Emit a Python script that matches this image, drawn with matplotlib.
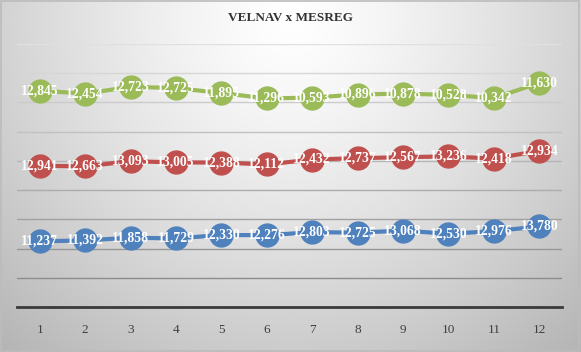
import numpy as np
import matplotlib
matplotlib.use("Agg")
import matplotlib.pyplot as plt
from matplotlib.patches import Rectangle

months = [1, 2, 3, 4, 5, 6, 7, 8, 9, 10, 11, 12]
blue_vals = [11237, 11392, 11858, 11729, 12330, 12276, 12803, 12725, 13068, 12530, 12976, 13780]
red_vals = [12941, 12663, 13093, 13005, 12388, 12112, 12432, 12737, 12567, 13236, 12418, 12934]
green_vals = [12845, 12454, 12723, 12725, 11895, 11296, 10593, 10896, 10878, 10528, 10342, 11630]
series = [("blue", blue_vals, "#4F81BD"), ("red", red_vals, "#C0504D"), ("green", green_vals, "#9BBB59")]
title = "VELNAV x MESREG"

W, H = 581, 352
fig = plt.figure(figsize=(W / 100, H / 100), dpi=100)

# background gradient
bg = fig.add_axes([0, 0, 1, 1], zorder=-10)
yy, xx = np.mgrid[0:H, 0:W]
cx, cy = W * 0.5, H * 0.05
r = np.sqrt(((xx - cx) / (W * 0.62)) ** 2 + ((yy - cy) / (H * 1.05)) ** 2)
v = 1.0 - 0.23 * np.clip(r, 0, 1.2) ** 1.3
img = np.dstack([v, v, v])
bg.imshow(img, aspect="auto", extent=[0, 1, 0, 1], origin="upper")
bg.set_xlim(0, 1)
bg.set_ylim(0, 1)
bg.axis("off")
bg.add_patch(Rectangle((0.002, 0.003), 0.994, 0.993, fill=False, edgecolor="#bcbcbc", lw=1.2))

ax = fig.add_axes([17 / W, 45 / H, (562 - 17) / W, (307 - 44) / H])
ax.patch.set_alpha(0)
ax.set_xlim(0.5, 12.5)
ax.set_ylim(0, 45000)
ax.set_yticks(np.arange(5000, 45001, 5000))
ax.yaxis.grid(True)
gl = ax.get_ygridlines()
for i, line in enumerate(gl):
    frac = i / (len(gl) - 1)
    c = 0.55 + 0.33 * frac
    line.set_color((c, c, c))
    line.set_linewidth(1.0)
ax.tick_params(axis="y", left=False, labelleft=False)
ax.set_xticks(months)
ax.set_xticklabels([str(m) for m in months], fontfamily="Liberation Serif", fontsize=9.5, color="#404040")
ax.tick_params(axis="x", length=0, pad=12)
for s in ["top", "right", "left"]:
    ax.spines[s].set_visible(False)
ax.spines["bottom"].set_color("#3a3a3a")
ax.spines["bottom"].set_linewidth(2)
ax.set_axisbelow(True)

cum = np.zeros(len(months))
for name, vals, col in series:
    cum = cum + np.array(vals)
    ax.plot(months, cum, color=col, lw=3, marker="o", markersize=16.5,
            markerfacecolor=col, markeredgecolor=col, zorder=3, clip_on=False)
    for x, y, val in zip(months, cum, vals):
        ax.text(x, y, f"{val:,}", ha="center", va="center", color="white",
                fontfamily="Liberation Serif", fontweight="bold", fontsize=9.8, zorder=5)

fig.text(0.5, 1 - 18 / H, title, ha="center", va="center", fontfamily="Liberation Serif",
         fontweight="bold", fontsize=9.5, color="#333333")

fig.savefig("out.png", dpi=100)
